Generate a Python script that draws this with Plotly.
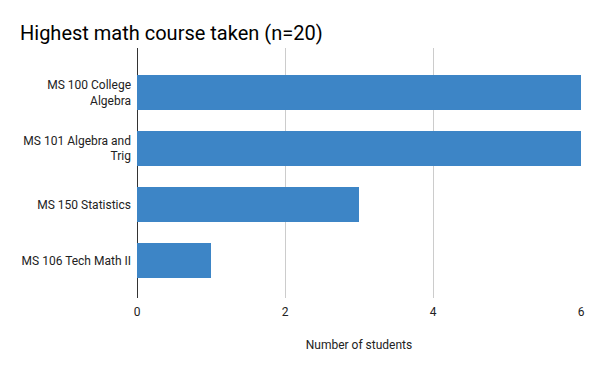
import plotly.graph_objects as go

courses = ["MS 100 College<br>Algebra", "MS 101 Algebra and<br>Trig", "MS 150 Statistics", "MS 106 Tech Math II"]
students = [6, 6, 3, 1]
x_ticks = [0, 2, 4, 6]

# page body has an 8px margin, so the figure is sized 592x363 and offsets compensate
fig = go.Figure(go.Bar(
    x=students, y=courses, orientation="h",
    marker=dict(color="#3d85c6", line=dict(width=0)),
    width=0.625,
))

fig.update_layout(
    width=592, height=363,
    margin=dict(l=129, r=19, t=40, b=73),
    paper_bgcolor="white", plot_bgcolor="white",
    font=dict(family="Roboto", color="#222222", size=11),
    title=dict(text="Highest math course taken (n=20)", x=12/592, xanchor="left",
               y=1-25/363, yanchor="middle", font=dict(size=20, color="#000000", family="Roboto")),
    showlegend=False,
)
fig.update_xaxes(
    range=[0, 6], tickvals=x_ticks, showgrid=True, gridcolor="#cccccc", gridwidth=1,
    zeroline=True, zerolinecolor="#333333", zerolinewidth=1,
    ticks="", tickfont=dict(size=12, color="#222222"), ticklabelstandoff=5,
    title=dict(text="Number of students", font=dict(size=12, color="#222222"), standoff=22),
)
fig.update_yaxes(
    range=[3.67, -0.795], showgrid=False, ticks="", ticklabelstandoff=5,
    tickfont=dict(size=12, color="#222222"), showline=False,
)
fig.write_html("out.html")
